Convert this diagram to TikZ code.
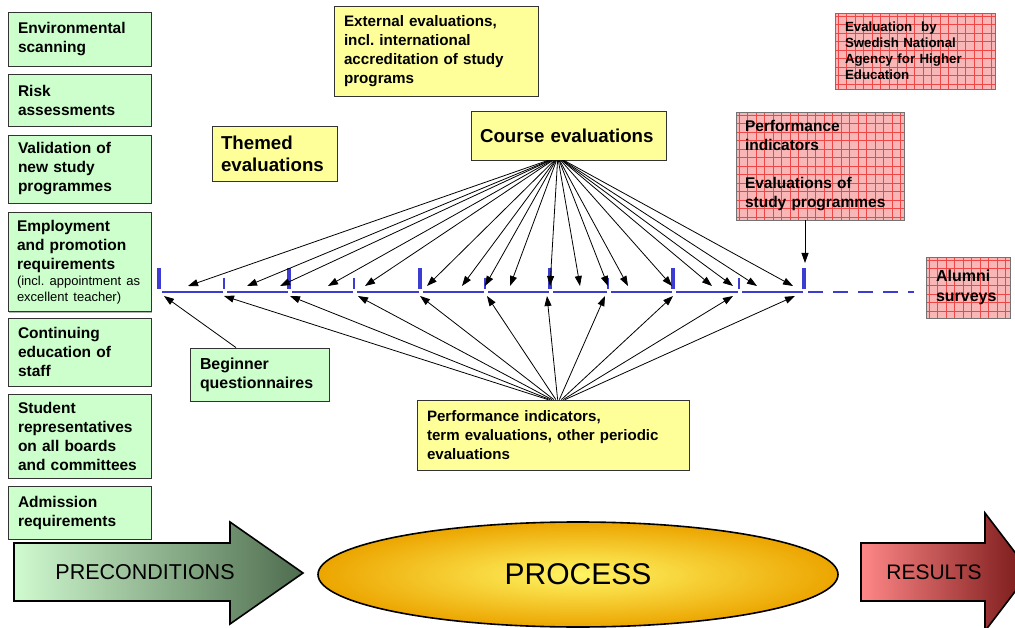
\documentclass[tikz,border=0pt]{standalone}
\usepackage{fontspec}
\setmainfont{Liberation Sans}
\frenchspacing
\usetikzlibrary{arrows.meta,shadows,shapes.geometric}
\definecolor{gfill}{RGB}{204,255,204}
\definecolor{yfill}{RGB}{255,255,153}
\definecolor{pfill}{RGB}{248,182,182}
\definecolor{pgrid}{RGB}{240,70,70}
\definecolor{tblue}{RGB}{60,60,210}
\definecolor{pgL}{RGB}{208,250,208}
\definecolor{pgM}{RGB}{165,210,165}
\definecolor{pgR}{RGB}{78,108,78}
\definecolor{rsL}{RGB}{255,135,135}
\definecolor{rsM}{RGB}{215,100,100}
\definecolor{rsR}{RGB}{118,22,22}
\definecolor{elIn}{RGB}{255,245,100}
\definecolor{elOut}{RGB}{236,165,0}
\begin{document}
\begin{tikzpicture}[x=1pt,y=-1pt,
  basebox/.style={draw=black!80, line width=0.8pt, inner ysep=0pt, align=left,
     drop shadow={shadow xshift=1.3pt, shadow yshift=-1.3pt, fill=black!50, opacity=0.6}},
  gbox/.style={basebox, fill=gfill, inner xsep=10pt, text width=123pt,
     font=\bfseries\fontsize{15.5}{19}\selectfont},
  ybox/.style={basebox, fill=yfill},
  rbox/.style={fill=pfill, draw=black!55, line width=0.8pt, inner ysep=0pt, align=left,
     path picture={
       \foreach \k in {0,...,20} {
         \draw[pgrid, line width=0.5pt]
           ([xshift=\k*8.5pt+3pt]path picture bounding box.north west) --
           ([xshift=\k*8.5pt+3pt]path picture bounding box.south west);
         \draw[pgrid, line width=0.5pt]
           ([yshift=-\k*8.5pt-3pt]path picture bounding box.north west) --
           ([yshift=-\k*8.5pt-3pt]path picture bounding box.north east);
       }}},
  arr/.style={line width=0.8pt, -{Triangle[length=10pt,width=7pt]}},
  bigtick/.style={tblue, line width=4pt},
  smalltick/.style={tblue, line width=2.2pt},
  tline/.style={tblue, line width=2pt},
  bigarrow/.style={draw=black, line width=1.6pt, line join=miter}
]
\clip (0,0) rectangle (1015,628);
\fill[white] (0,0) rectangle (1015,628);

% ---------- left green boxes ----------
\node[gbox, minimum height=54pt] (env) at (79.5,39) {Environmental\\scanning};
\node[gbox, minimum height=52pt] (risk) at (79.5,100) {Risk\\assessments};
\node[gbox, minimum height=68pt] (valid) at (79.5,169) {Validation of\\new study\\programmes};
\node[gbox, minimum height=99pt, text width=125pt, inner xsep=9pt] (emp) at (79.5,262) {Employment\\and promotion\\requirements\par
  {\mdseries\fontsize{13}{16}\selectfont (incl. appointment as\\excellent teacher)\par}};
\node[gbox, minimum height=68pt] (cont) at (79.5,352) {Continuing\\education of\\staff};
\node[gbox, minimum height=84pt] (stud) at (79.5,436) {Student\\representatives\\on all boards\\and committees};
\node[gbox, minimum height=53pt] (adm) at (79.5,512.5) {Admission\\requirements};

% ---------- yellow boxes ----------
\node[ybox, minimum height=90pt, inner xsep=10pt, text width=184pt,
  font=\bfseries\fontsize{15.2}{19}\selectfont] (ext) at (436,51)
  {External evaluations,\\incl. international\\accreditation of study\\programs};
\node[ybox, minimum height=55pt, inner xsep=9pt, text width=107pt,
  font=\bfseries\fontsize{18.7}{22}\selectfont] (them) at (274.5,153.5)
  {Themed\\evaluations};
\node[ybox, minimum height=49pt, inner xsep=9pt, text width=177pt,
  font=\bfseries\fontsize{18.7}{22}\selectfont] (ce) at (568.5,135.5)
  {Course evaluations};
\node[ybox, minimum height=70pt, inner xsep=10pt, text width=252pt,
  font=\bfseries\fontsize{15.1}{19}\selectfont] (pib) at (553,435)
  {Performance indicators,\\term evaluations, other periodic\\evaluations};
\node[gbox, minimum height=53pt, text width=119pt,
  font=\bfseries\fontsize{15.9}{19}\selectfont] (bq) at (259.5,374.5)
  {Beginner\\questionnaires};

% ---------- red hatched boxes ----------
\node[rbox, minimum height=76pt, inner xsep=10pt, text width=140pt,
  font=\bfseries\fontsize{13.3}{16}\selectfont] (swe) at (915,51)
  {Evaluation~ by\\Swedish National\\Agency for Higher\\Education};
\node[rbox, minimum height=108pt, inner xsep=9pt, text width=150pt,
  font=\bfseries\fontsize{15.5}{19}\selectfont] (rp) at (820,166)
  {Performance\\indicators\\[19pt]Evaluations of\\study programmes};
\node[rbox, minimum height=61pt, inner xsep=10pt, text width=64pt,
  font=\bfseries\fontsize{16}{19.5}\selectfont] (alu) at (968,287.5)
  {Alumni\\surveys};

% ---------- timeline ----------
\foreach \a/\b in {159/224,224/289,289/354,354/420,420/485,485/550,550/608,608/673,673/739,739/804}
  \draw[tline] (\a+3,292) -- (\b-1,292);
\draw[tline, dash pattern=on 15pt off 10pt] (808,292) -- (914,292);
\foreach \x in {159,289,420,550,673,804}
  \draw[bigtick] (\x,268) -- (\x,289);
\foreach \x in {224,354,485,608,739}
  \draw[smalltick] (\x,278) -- (\x,289);

% ---------- arrows from course evaluations ----------
\foreach \t [count=\i] in {188,247,280,328,365,427,462,485,510,550,580,608,628,672,712,733,757,793} {
  \coordinate (ct\i) at (\t,286);
  \draw[arr] ([xshift={548+(\t-188)*0.02645-568.5}]ce.south) -- (ct\i);
}

% ---------- arrows from performance indicators (bottom) ----------
\foreach \t [count=\i] in {224,290,358,420,487,547,605,673,733,795} {
  \coordinate (pt\i) at (\t,296);
  \draw[arr] ([xshift={548+(\t-224)*0.0298-553}]pib.north) -- (pt\i);
}

% ---------- other arrows ----------
\coordinate (bqt) at (164,296);
\draw[arr] ([xshift=-23.5]bq.north) -- (bqt);
\coordinate (rpt) at (805,263);
\draw[arr] ([xshift=-15]rp.south) -- (rpt);

% ---------- bottom big arrows & ellipse ----------
\shade[bigarrow, left color=pgL, middle color=pgM, right color=pgR]
  (14,543) -- (230,543) -- (230,522) -- (303,573) -- (230,624) -- (230,601) -- (14,601) -- cycle;
\node[font=\fontsize{21.5}{24}\selectfont] (pre) at (145,572) {PRECONDITIONS};

\node[ellipse, draw=black, line width=1.6pt, inner color=elIn, outer color=elOut,
  minimum width=520pt, minimum height=105pt, font=\fontsize{30}{34}\selectfont] (proc) at (578,574.5) {PROCESS};

\shade[bigarrow, left color=rsL, middle color=rsM, right color=rsR]
  (861,543) -- (985,543) -- (985,513) -- (1030,572) -- (985,631) -- (985,601) -- (861,601) -- cycle;
\node[font=\fontsize{21}{24}\selectfont] (res) at (934,572) {RESULTS};
\end{tikzpicture}
\end{document}
